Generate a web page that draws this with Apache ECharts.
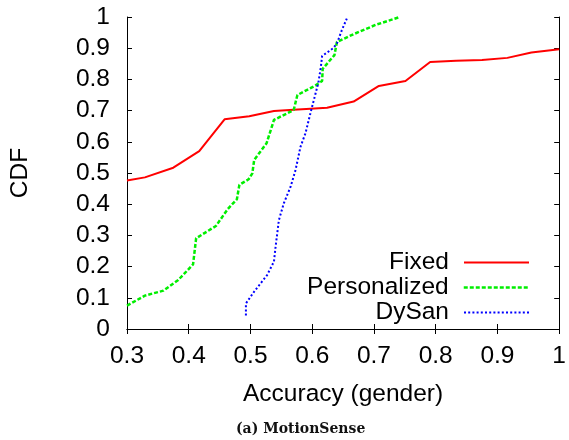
<!DOCTYPE html>
<html>
<head>
<meta charset="utf-8">
<script src="https://cdn.jsdelivr.net/npm/echarts@6/dist/echarts.min.js"></script>
<style>html,body{margin:0;padding:0;background:#fff;}#c{width:569px;height:440px;}</style>
</head>
<body>
<div id="c"></div>
<script>
const xTicks = [0.3, 0.4, 0.5, 0.6, 0.7, 0.8, 0.9, 1.0];
const yTicks = [0, 0.1, 0.2, 0.3, 0.4, 0.5, 0.6, 0.7, 0.8, 0.9, 1.0];
const seriesNames = ['Fixed', 'Personalized', 'DySan'];

const fixedX = [0.300, 0.329, 0.375, 0.417, 0.458, 0.498, 0.538, 0.570, 0.624, 0.667, 0.708, 0.751, 0.791, 0.833, 0.875, 0.916, 0.955, 1.000];
const fixedY = [0.476, 0.486, 0.517, 0.570, 0.672, 0.682, 0.699, 0.703, 0.709, 0.729, 0.779, 0.795, 0.856, 0.860, 0.862, 0.869, 0.886, 0.897];

const persX = [0.300, 0.329, 0.359, 0.383, 0.407, 0.412, 0.444, 0.463, 0.478, 0.482, 0.497, 0.503, 0.506, 0.526, 0.538, 0.570, 0.576, 0.605, 0.616, 0.617, 0.636, 0.640, 0.667, 0.703, 0.742];
const persY = [0.075, 0.107, 0.123, 0.157, 0.207, 0.291, 0.330, 0.384, 0.416, 0.462, 0.480, 0.499, 0.542, 0.595, 0.670, 0.702, 0.750, 0.780, 0.795, 0.834, 0.878, 0.920, 0.945, 0.975, 1.000];

const dyX = [0.4926, 0.4926, 0.506, 0.527, 0.538, 0.541, 0.546, 0.554, 0.565, 0.573, 0.581, 0.589, 0.597, 0.605, 0.610, 0.614, 0.616, 0.634, 0.640, 0.648, 0.656];
const dyY = [0.043, 0.082, 0.120, 0.173, 0.216, 0.269, 0.349, 0.403, 0.456, 0.510, 0.584, 0.627, 0.691, 0.752, 0.790, 0.840, 0.875, 0.900, 0.915, 0.958, 0.995];

function pairs(xs, ys) { return xs.map((x, i) => [x, ys[i]]); }
const fmt = v => String(Math.round(v * 10) / 10);

const FONT = 'Liberation Sans';
const FS = 24.5;
const axisCommon = {
  type: 'value',
  axisLine: { show: true, lineStyle: { color: '#000', width: 1 } },
  splitLine: { show: false }
};

const colors = ['#ff0000', '#00ee00', '#0000ff'];
const dashes = ['solid', [4, 2], [2, 2.2]];
const widths = [2, 2.5, 2];

const chart = echarts.init(document.getElementById('c'));
chart.setOption({
  animation: false,
  backgroundColor: '#fff',
  grid: { left: 125, right: 8, top: 17, bottom: 111, containLabel: false },
  title: {
    text: '(a) MotionSense', left: 236, top: 422,
    textStyle: { fontFamily: 'DejaVu Serif', fontWeight: 'bold', fontSize: 14, color: '#111' },
    padding: 0
  },
  legend: seriesNames.map((n, i) => ({
    data: [n], orient: 'vertical', align: 'right', right: 39, top: 250 + i * 25, padding: 0,
    itemWidth: 65, itemHeight: 14, selectedMode: false, icon: 'inherit',
    textStyle: { fontFamily: FONT, fontSize: FS, color: '#000', padding: [0, 10, 0, 0] },
    itemStyle: { opacity: 0 },
    lineStyle: { color: colors[i], width: widths[i], type: dashes[i] }
  })),
  xAxis: [
    Object.assign({}, axisCommon, {
      position: 'bottom', min: 0.3, max: 1, interval: 0.1,
      name: 'Accuracy (gender)', nameLocation: 'middle', nameGap: 53,
      nameTextStyle: { fontFamily: FONT, fontSize: FS, color: '#000' },
      axisTick: { show: true, inside: true, length: 5, lineStyle: { color: '#000' }, customValues: xTicks },
      axisLabel: { show: true, margin: 15, fontFamily: FONT, fontSize: FS, color: '#000', formatter: fmt, customValues: xTicks }
    }),
    Object.assign({}, axisCommon, {
      position: 'top', min: 0.3, max: 1, interval: 0.1,
      axisTick: { show: true, inside: true, length: 5, lineStyle: { color: '#000' }, customValues: xTicks },
      axisLabel: { show: false }
    })
  ],
  yAxis: [
    Object.assign({}, axisCommon, {
      position: 'left', min: 0, max: 1, interval: 0.1,
      name: 'CDF', nameLocation: 'middle', nameGap: 94,
      nameTextStyle: { fontFamily: FONT, fontSize: FS, color: '#000' },
      axisTick: { show: true, inside: true, length: 5, lineStyle: { color: '#000' }, customValues: yTicks },
      axisLabel: { show: true, margin: 17, fontFamily: FONT, fontSize: FS, color: '#000', formatter: fmt, customValues: yTicks }
    }),
    Object.assign({}, axisCommon, {
      position: 'right', min: 0, max: 1, interval: 0.1,
      axisTick: { show: true, inside: true, length: 5, lineStyle: { color: '#000' }, customValues: yTicks },
      axisLabel: { show: false }
    })
  ],
  series: [
    { name: seriesNames[0], type: 'line', symbol: 'none', data: pairs(fixedX, fixedY),
      lineStyle: { color: colors[0], width: widths[0], type: dashes[0] }, itemStyle: { color: colors[0] } },
    { name: seriesNames[1], type: 'line', symbol: 'none', data: pairs(persX, persY),
      lineStyle: { color: colors[1], width: widths[1], type: dashes[1] }, itemStyle: { color: colors[1] } },
    { name: seriesNames[2], type: 'line', symbol: 'none', data: pairs(dyX, dyY),
      lineStyle: { color: colors[2], width: widths[2], type: dashes[2] }, itemStyle: { color: colors[2] } }
  ]
});
</script>
</body>
</html>
